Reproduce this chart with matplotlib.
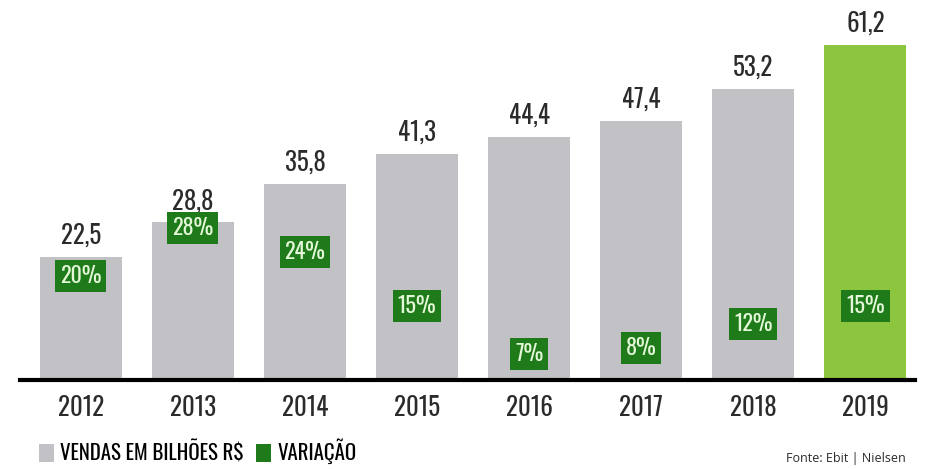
import matplotlib
matplotlib.use('Agg')
import matplotlib.pyplot as plt
from matplotlib.patches import Patch
from matplotlib import font_manager

years = ['2012', '2013', '2014', '2015', '2016', '2017', '2018', '2019']
sales = [22.5, 28.8, 35.8, 41.3, 44.4, 47.4, 53.2, 61.2]
variation = [20, 28, 24, 15, 7, 8, 12, 15]

# pick a condensed font if one is around
names = {f.name for f in font_manager.fontManager.ttflist}
narrow = 'DejaVu Sans'
for cand in ['Oswald', 'Roboto Condensed', 'Liberation Sans Narrow']:
    if cand in names:
        narrow = cand
        break
plt.rcParams['font.family'] = [narrow, 'DejaVu Sans']

gray = '#c2c2c6'
light_green = '#8cc63e'
dark_green = '#1f7a1a'
text_dark = '#2b2b2b'

fig = plt.figure(figsize=(9.36, 4.69), dpi=100)
ax = fig.add_axes([0.021, 0.19, 0.957, 0.746])

x = list(range(len(years)))
colors = [gray] * (len(years) - 1) + [light_green]
ax.bar(x, sales, width=0.73, color=colors, zorder=2)
ax.set_ylim(0, 64)
ax.set_xlim(-0.545, 7.446)

# Value labels above bars
for i, v in enumerate(sales):
    ax.text(i, v + 1.5, f'{v:.1f}'.replace('.', ','), ha='center', va='bottom',
            fontsize=18, fontweight='bold', color=text_dark)

# Variation boxes on secondary scale
ax2 = ax.twinx()
ax2.set_ylim(2.67, 61)
for i, v in enumerate(variation):
    ax2.text(i, v, f'{v}%', ha='center', va='center', fontsize=16, fontweight='bold',
             color='#e4f7d8', zorder=5,
             bbox=dict(boxstyle='square,pad=0.22', facecolor=dark_green, edgecolor='none'))

for a in (ax, ax2):
    for s in a.spines.values():
        s.set_visible(False)
    a.set_yticks([])
ax.spines['bottom'].set_visible(True)
ax.spines['bottom'].set_linewidth(3)
ax.spines['bottom'].set_color('black')
ax.set_xticks(x)
ax.set_xticklabels(years, fontsize=18, fontweight='bold', color=text_dark)
ax.tick_params(axis='x', length=0, pad=11)
ax2.tick_params(axis='x', length=0)

# Legend and source
handles = [Patch(facecolor=gray, edgecolor='none'),
           Patch(facecolor=dark_green, edgecolor='none')]
fig.legend(handles, ['VENDAS EM BILHÕES R$', 'VARIAÇÃO'], loc='lower left',
           bbox_to_anchor=(0.022, -0.03), ncol=2, frameon=False,
           handlelength=0.7, handleheight=0.9, handletextpad=0.3, columnspacing=0.6,
           prop={'family': [narrow, 'DejaVu Sans'], 'weight': 'heavy', 'size': 15})
fig.text(0.968, 0.008, 'Fonte: Ebit | Nielsen', ha='right', va='bottom',
         fontsize=9, color=text_dark, family=['Open Sans', 'DejaVu Sans'])

fig.savefig('out.png', dpi=100)
